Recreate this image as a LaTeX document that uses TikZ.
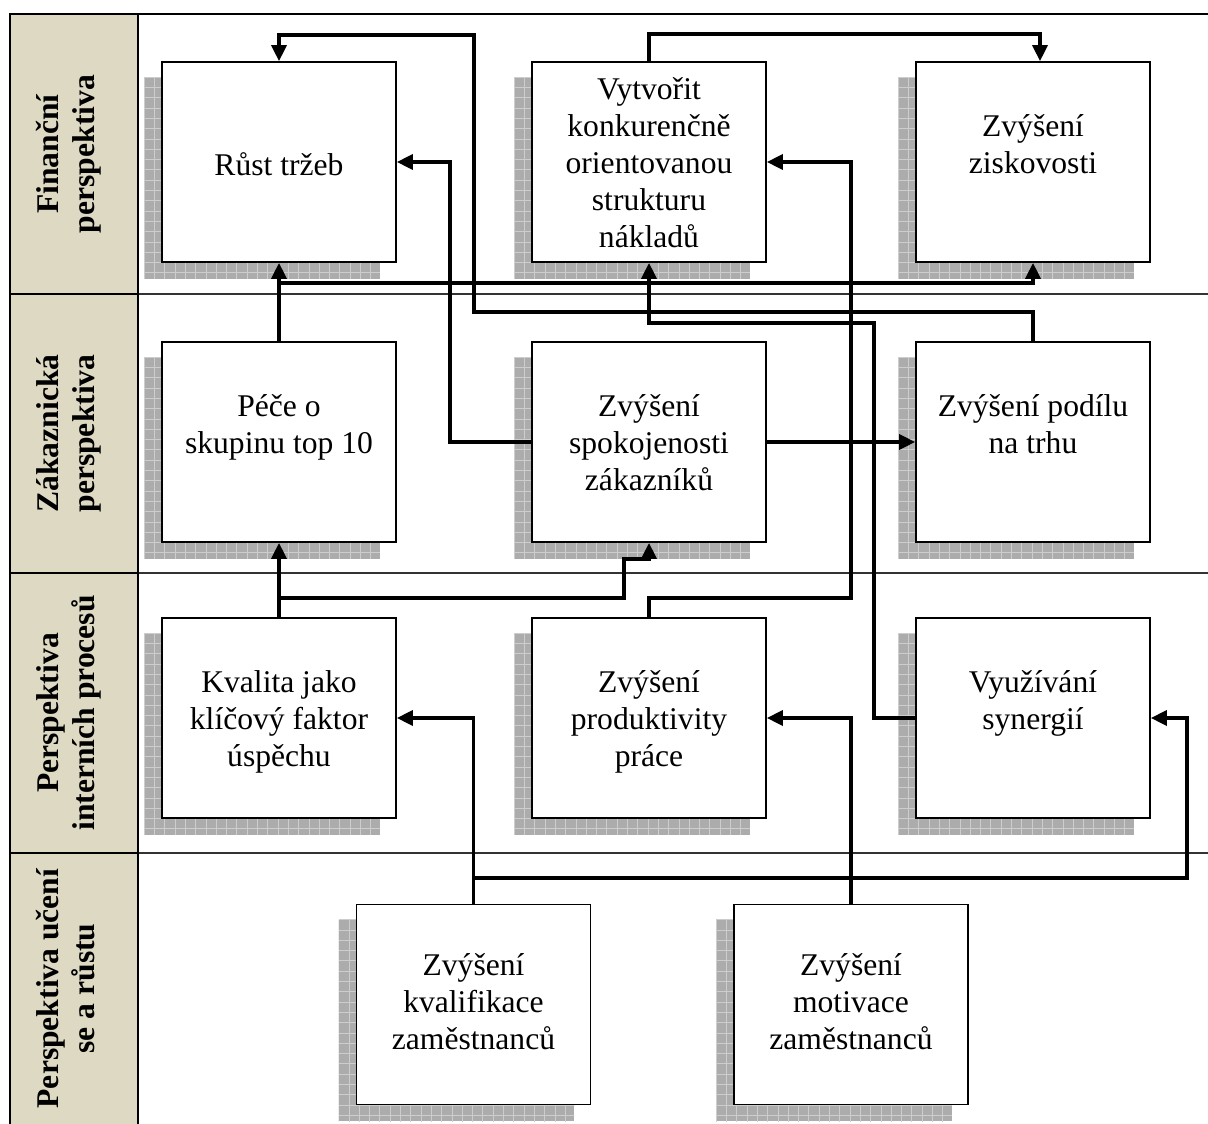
\documentclass[tikz,border=0pt]{standalone}
\usepackage{fontspec}
\setmainfont{Liberation Serif}
\usetikzlibrary{arrows.meta,calc}
\pgfdeclarelayer{background}
\pgfsetlayers{background,main}
\definecolor{labelfill}{RGB}{221,217,195}
\definecolor{shadowfill}{RGB}{172,172,172}
\definecolor{shadowgrid}{RGB}{205,205,205}

% grey chequered drop shadow behind a box node
\newcommand\castshadow[1]{%
  \begin{pgfonlayer}{background}
  \begin{scope}
    \clip ($(#1.north west)+(-17,16)$) rectangle ($(#1.south east)+(-17,16)$);
    \fill[shadowfill] ($(#1.north west)+(-17,16)$) rectangle ($(#1.south east)+(-17,16)$);
    \foreach \k in {0,...,23} {
      \draw[shadowgrid, line width=0.9pt] ($(#1.north west)+(-17+10.3*\k,16)$) -- ++(0,210);
    }
    \foreach \k in {0,...,20} {
      \draw[shadowgrid, line width=0.9pt] ($(#1.north west)+(-17,16+10.3*\k)$) -- ++(250,0);
    }
  \end{scope}
  \end{pgfonlayer}}

\begin{document}
\begin{tikzpicture}[x=1pt, y=-1pt,
  box/.style={draw, line width=1.7pt, fill=white, minimum width=234pt,
    minimum height=200pt, inner sep=0pt},
  boxtext/.style={align=center, inner sep=0pt,
    font=\fontsize{31.6}{37}\selectfont,
    execute at begin node=\strut, execute at end node=\strut},
  lanelabel/.style={rotate=90, align=center, inner sep=0pt,
    font=\bfseries\fontsize{31.6}{36}\selectfont,
    execute at begin node=\strut, execute at end node=\strut},
  arr/.style={line width=3.4pt, -{Triangle[length=16pt,width=15pt]}},
  lanesep/.style={line width=1.2pt, black!80},
  frame/.style={line width=2pt, black}]

\useasboundingbox (0,0) rectangle (1208,1124);

% lanes: label column, borders and separators
\begin{pgfonlayer}{background}
  \fill[labelfill] (10,14) rectangle (138,1124);
  \foreach \yy in {294,573,853} {
    \draw[lanesep] (138,\yy) -- (1208,\yy);
    \draw[frame] (10,\yy) -- (138,\yy);
  }
  \draw[frame] (10,1124) -- (10,14) -- (1208,14);
  \draw[frame] (138,14) -- (138,1124);
\end{pgfonlayer}

% lane titles
\node[lanelabel] (lab1) at (71,154) {Finanční\\perspektiva};
\node[lanelabel] (lab2) at (71,433.5) {Zákaznická\\perspektiva};
\node[lanelabel] (lab3) at (71,713) {Perspektiva\\interních procesů};
\node[lanelabel] (lab4) at (71,988.5) {Perspektiva učení\\se a růstu};

% goal boxes
\node[box] (rust)   at (279,162) {};
\node[box] (vyt)    at (649,162) {};
\node[box] (zisk)   at (1033,162) {};
\node[box] (pece)   at (279,442) {};
\node[box] (spok)   at (649,442) {};
\node[box] (podil)  at (1033,442) {};
\node[box] (kval)   at (279,718) {};
\node[box] (prod)   at (649,718) {};
\node[box] (syn)    at (1033,718) {};
\node[box] (kvalif) at (473.5,1004.5) {};
\node[box] (motiv)  at (851,1004.5) {};

\foreach \b in {rust,vyt,zisk,pece,spok,podil,kval,prod,syn,kvalif,motiv} {
  \castshadow{\b}
}

% box captions
\node[boxtext] (rust-t)   at ([yshift=-6pt]rust.center)    {Růst tržeb};
\node[boxtext] (vyt-t)    at ([yshift=-6pt]vyt.center)     {Vytvořit\\konkurenčně\\orientovanou\\strukturu\\nákladů};
\node[boxtext] (zisk-t)   at ([yshift=12.5pt]zisk.center)  {Zvýšení\\ziskovosti};
\node[boxtext] (pece-t)   at ([yshift=12.5pt]pece.center)  {Péče o\\skupinu top 10};
\node[boxtext] (spok-t)   at ([yshift=-6pt]spok.center)    {Zvýšení\\spokojenosti\\zákazníků};
\node[boxtext] (podil-t)  at ([yshift=12.5pt]podil.center) {Zvýšení podílu\\na trhu};
\node[boxtext] (kval-t)   at ([yshift=-6pt]kval.center)    {Kvalita jako\\klíčový faktor\\úspěchu};
\node[boxtext] (prod-t)   at ([yshift=-6pt]prod.center)    {Zvýšení\\produktivity\\práce};
\node[boxtext] (syn-t)    at ([yshift=12.5pt]syn.center)   {Využívání\\synergií};
\node[boxtext] (kvalif-t) at ([yshift=-3pt]kvalif.center)  {Zvýšení\\kvalifikace\\zaměstnanců};
\node[boxtext] (motiv-t)  at ([yshift=-3pt]motiv.center)   {Zvýšení\\motivace\\zaměstnanců};

% cause-and-effect links
\draw[arr] (podil.north) |- (474,312) |- (279,35) -- (rust.north);
\draw[arr] (vyt.north) -- ++(0,-27) -| ([xshift=7pt]zisk.north);
\draw[arr] (spok.west) -| (450,162) -- (rust.east);
\draw[arr] (spok.east) -- (podil.west);
\draw[arr] (prod.north) |- (851,598) |- (vyt.east);
\draw[arr] (syn.west) -| (874,323) -| (vyt.south);
\draw[arr] (pece.north) -- (rust.south);
\draw[arr] (pece.north) |- (1033,283) -- (zisk.south);
\draw[arr] (kval.north) -- (pece.south);
\draw[arr] (kval.north) |- (624,598) |- (649,559) -- (spok.south);
\draw[arr] (kvalif.north) |- (kval.east);
\draw[arr] (kvalif.north) |- (1187,878) |- (syn.east);
\draw[arr] (motiv.north) |- (prod.east);
\end{tikzpicture}
\end{document}
